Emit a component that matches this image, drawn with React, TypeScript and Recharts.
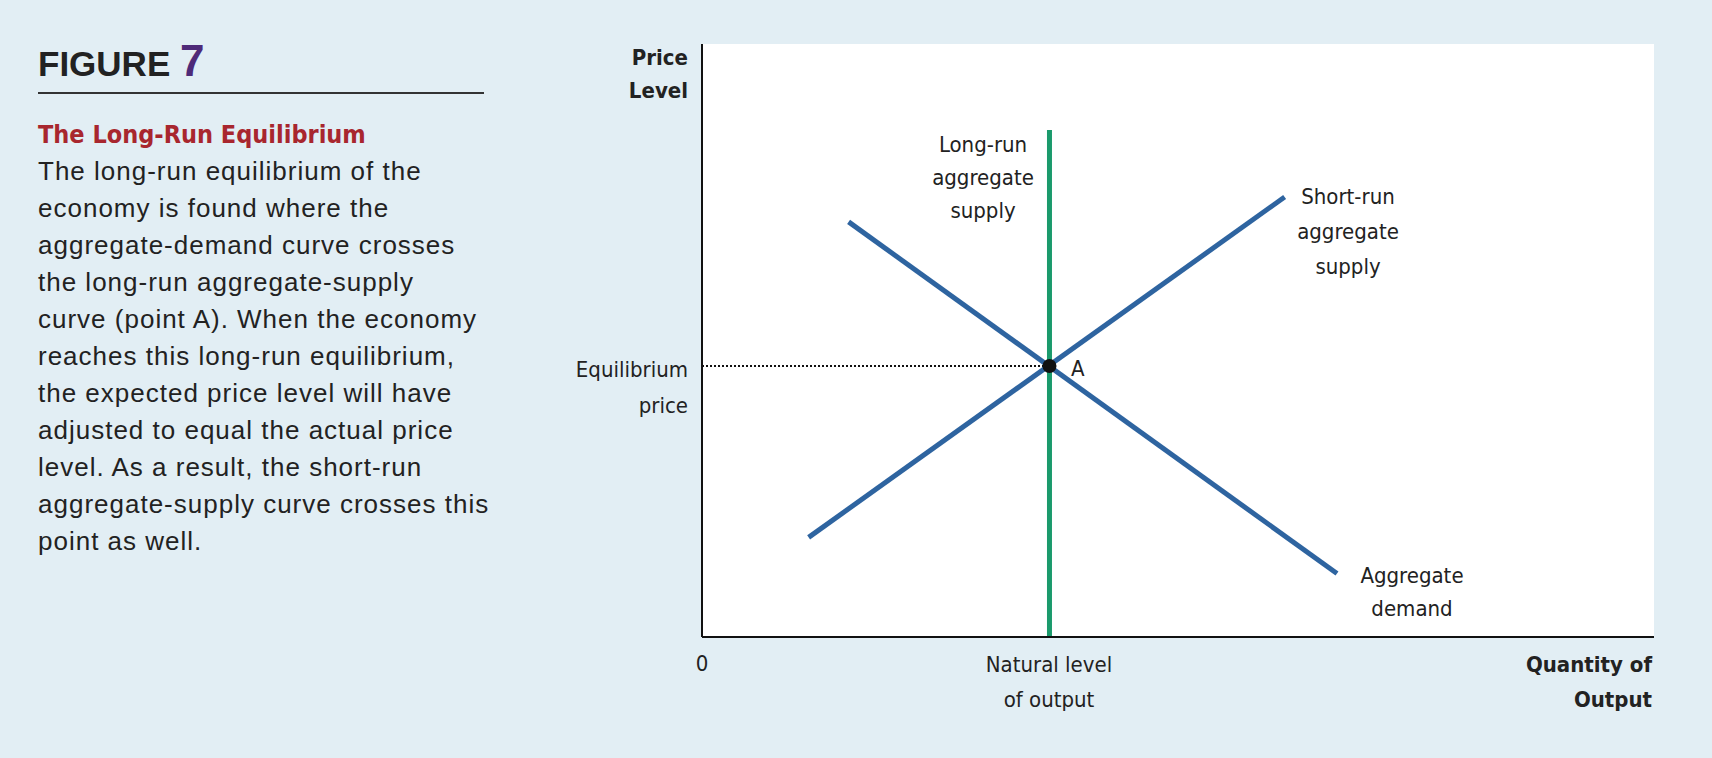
import { ComposedChart, Line, XAxis, YAxis, ReferenceLine, ReferenceDot, ReferenceArea } from "recharts";

const natural = 36.5;
const eqPrice = 45.7;
const lrasTop = 85.5;
const sras = [
  { q: 11.2, p: 16.8 },
  { q: 61.2, p: 74.2 },
];
const ad = [
  { q: 15.4, p: 70.0 },
  { q: 66.7, p: 10.7 },
];
const lras = [
  { q: natural, p: 0 },
  { q: natural, p: lrasTop },
];
const bodyLines = [
  "The long-run equilibrium of the",
  "economy is found where the",
  "aggregate-demand curve crosses",
  "the long-run aggregate-supply",
  "curve (point A). When the economy",
  "reaches this long-run equilibrium,",
  "the expected price level will have",
  "adjusted to equal the actual price",
  "level. As a result, the short-run",
  "aggregate-supply curve crosses this",
  "point as well.",
];

const narrow = '"Liberation Sans Narrow", "DejaVu Sans Condensed", "Roboto", sans-serif';
const sans = '"Liberation Sans", "Roboto", sans-serif';

type LabelProps = { lines: string[]; x: number; y: number; align: "left" | "center" | "right"; bold?: boolean; gap?: number };

function ChartLabel({ lines, x, y, align, bold, gap = 33 }: LabelProps) {
  const w = 300;
  const left = align === "left" ? x : align === "center" ? x - w / 2 : x - w;
  return (
    <div style={{ position: "absolute", left, top: y - 14, width: w, textAlign: align, fontFamily: narrow, fontSize: 22, fontWeight: bold ? 700 : 400, lineHeight: `${gap}px`, color: "#222" }}>
      {lines.map((l) => (
        <div key={l}>{l}</div>
      ))}
    </div>
  );
}

export default function App() {
  return (
    <div style={{ position: "absolute", left: 0, top: 0, width: 1712, height: 758, background: "#e2eef4", overflow: "hidden" }}>
      <div style={{ position: "absolute", left: 38, top: 36, fontFamily: sans, fontWeight: 700, fontSize: 35, color: "#222" }}>
        FIGURE <span style={{ color: "#4e2a78", fontSize: 44 }}>7</span>
      </div>
      <div style={{ position: "absolute", left: 38, top: 92, width: 446, height: 2, background: "#333" }} />
      <div style={{ position: "absolute", left: 38, top: 120, fontFamily: narrow, fontWeight: 700, fontSize: 25, color: "#a8262e" }}>
        The Long-Run Equilibrium
      </div>
      <div style={{ position: "absolute", left: 38, top: 153, fontFamily: sans, fontSize: 26, letterSpacing: 1, lineHeight: "37px", color: "#222", whiteSpace: "nowrap" }}>
        {bodyLines.map((l) => (
          <div key={l}>{l}</div>
        ))}
      </div>

      <div style={{ position: "absolute", left: 0, top: 0 }}>
        <ComposedChart width={1712} height={758} margin={{ left: 702, right: 58, top: 44, bottom: 121 }}>
          <XAxis type="number" dataKey="q" domain={[0, 100]} hide allowDataOverflow />
          <YAxis type="number" dataKey="p" domain={[0, 100]} hide allowDataOverflow />
          <ReferenceArea x1={0} x2={100} y1={0} y2={100} fill="#ffffff" fillOpacity={1} stroke="none" />
          <ReferenceLine segment={[{ x: 0, y: eqPrice }, { x: natural, y: eqPrice }]} stroke="#111" strokeWidth={2} strokeDasharray="2 2" />
          <Line data={lras} dataKey="p" stroke="#1a9a6c" strokeWidth={5} dot={false} isAnimationActive={false} />
          <Line data={sras} dataKey="p" stroke="#2e64a0" strokeWidth={5} dot={false} isAnimationActive={false} />
          <Line data={ad} dataKey="p" stroke="#2e64a0" strokeWidth={5} dot={false} isAnimationActive={false} />
          <ReferenceLine x={0} stroke="#111" strokeWidth={2} />
          <ReferenceLine y={0} stroke="#111" strokeWidth={2} />
          <ReferenceDot x={natural} y={eqPrice} r={7} fill="#111" stroke="none" />
        </ComposedChart>
      </div>

      <ChartLabel lines={["Price", "Level"]} x={688} y={55} align="right" bold />
      <ChartLabel lines={["Equilibrium", "price"]} x={688} y={366} align="right" gap={36} />
      <ChartLabel lines={["0"]} x={702} y={661} align="center" />
      <ChartLabel lines={["Natural level", "of output"]} x={1049} y={661} align="center" gap={35} />
      <ChartLabel lines={["Quantity of", "Output"]} x={1652} y={661} align="right" bold gap={35} />
      <ChartLabel lines={["Long-run", "aggregate", "supply"]} x={983} y={142} align="center" />
      <ChartLabel lines={["Short-run", "aggregate", "supply"]} x={1348} y={193} align="center" gap={35} />
      <ChartLabel lines={["Aggregate", "demand"]} x={1412} y={573} align="center" />
      <ChartLabel lines={["A"]} x={1071} y={366} align="left" />
    </div>
  );
}
